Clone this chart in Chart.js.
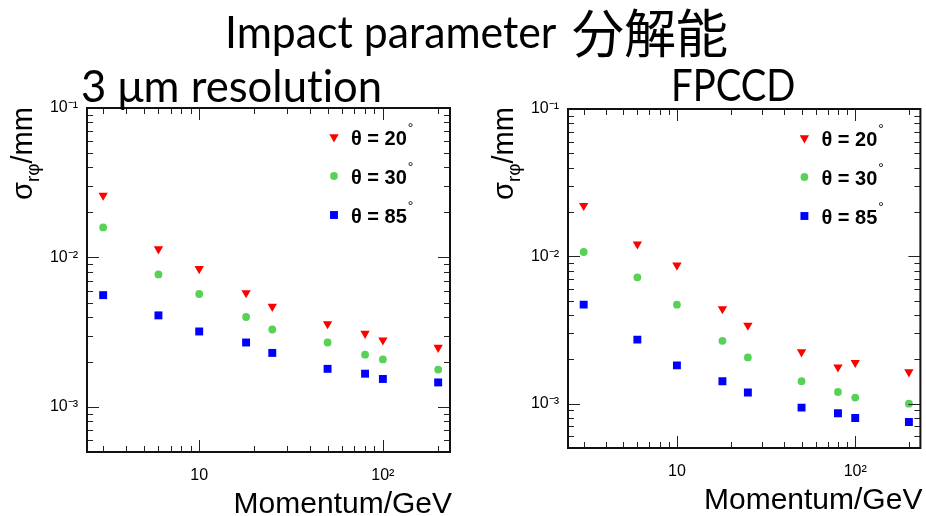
<!DOCTYPE html>
<html>
<head>
<meta charset="utf-8">
<script src="https://cdn.jsdelivr.net/npm/chart.js@4.4.1/dist/chart.umd.min.js"></script>
<style>
  body { margin: 0; width: 926px; height: 516px; background: #fff; overflow: hidden; position: relative; }
  canvas { position: absolute; top: 0; }
  .txt { position: absolute; white-space: nowrap; color: #000; line-height: 1; font-family: Lato, "Open Sans", sans-serif; font-variant-ligatures: none; transform-origin: 0 0; }
  .cjk { font-family: "Noto Sans CJK JP", sans-serif; }
</style>
</head>
<body>
<canvas id="chartLeft" width="460" height="516" style="left:0"></canvas>
<canvas id="chartRight" width="456" height="516" style="left:470px"></canvas>

<div class="txt" style="left:225px; top:9px; font-size:45px; transform: scaleX(0.95)">Impact parameter</div>
<div class="txt cjk" style="left:572px; top:5px; font-size:52px">分解能</div>
<div class="txt" style="left:81px; top:63px; font-size:45px; transform: scaleX(0.97)">3 μm resolution</div>
<div class="txt" style="left:671px; top:62px; font-size:44px; transform: scaleX(0.87)">FPCCD</div>

<script>
// momentum points (GeV)
var momentum = [3, 6, 10, 18, 25, 50, 80, 100, 200];

// sigma_rphi in mm, 3 um resolution
var res3um_th20 = [0.026, 0.0114, 0.0084, 0.0058, 0.0047, 0.0036, 0.0031, 0.0028, 0.0025];
var res3um_th30 = [0.0159, 0.0077, 0.0057, 0.0040, 0.0033, 0.0027, 0.00224, 0.00208, 0.00178];
var res3um_th85 = [0.0056, 0.0041, 0.0032, 0.0027, 0.0023, 0.0018, 0.00167, 0.00154, 0.00146];

// sigma_rphi in mm, FPCCD
var fpccd_th20 = [0.0221, 0.0121, 0.0087, 0.0044, 0.0034, 0.00224, 0.00177, 0.0019, 0.00164];
var fpccd_th30 = [0.0107, 0.0072, 0.0047, 0.00267, 0.00206, 0.00142, 0.0012, 0.0011, 0.0010];
var fpccd_th85 = [0.0047, 0.00272, 0.00182, 0.00142, 0.00119, 0.00094, 0.00086, 0.0008, 0.00075];

var seriesLabels = ['θ = 20', 'θ = 30', 'θ = 85'];
var xTicks = [10, 100];
var yTicks = [0.001, 0.01, 0.1];

var seriesStyle = [
    { color: '#ff0000', pointStyle: 'triangle', radius: 5.4, rotation: 180 },
    { color: '#57d257', pointStyle: 'circle', radius: 3.9, rotation: 0 },
    { color: '#0000ff', pointStyle: 'rect', radius: 5.6, rotation: 0 }
];

var supDigits = { '-': '⁻', '0': '⁰', '1': '¹', '2': '²', '3': '³', '4': '⁴' };
function powerLabel(v) {
    var e = Math.round(Math.log10(v));
    if (e === 1) return '10';
    return '10' + String(e).split('').map(function(c) { return supDigits[c]; }).join('');
}

function makeDatasets(lists) {
    return lists.map(function(vals, i) {
        var s = seriesStyle[i];
        return {
            label: seriesLabels[i],
            data: momentum.map(function(p, j) { return { x: p, y: vals[j] }; }),
            showLine: false,
            pointStyle: s.pointStyle,
            pointRadius: s.radius,
            pointRotation: s.rotation,
            pointBackgroundColor: s.color,
            pointBorderWidth: 0,
            backgroundColor: s.color
        };
    });
}

// ROOT-like frame: inside ticks on all four sides, axis titles and legend
var rootFrame = {
    id: 'rootFrame',
    afterDatasetsDraw: function(chart) {
        var ctx = chart.ctx, a = chart.chartArea;
        var xs = chart.scales.x, ys = chart.scales.y;
        ctx.save();

        ctx.strokeStyle = '#222';
        ctx.lineWidth = 1;
        ctx.beginPath();
        for (var n = -4; n <= -1; n++) {
            for (var k = 1; k <= 9; k++) {
                var v = k * Math.pow(10, n);
                if (v < ys.min * 0.999 || v > ys.max * 1.001) continue;
                var py = Math.round(ys.getPixelForValue(v)) + 0.5;
                var len = k === 1 ? 12 : 6;
                ctx.moveTo(a.left, py); ctx.lineTo(a.left + len, py);
                ctx.moveTo(a.right, py); ctx.lineTo(a.right - len, py);
            }
        }
        for (var m = 0; m <= 2; m++) {
            for (var k2 = 1; k2 <= 9; k2++) {
                var xv = k2 * Math.pow(10, m);
                if (xv < xs.min || xv > xs.max) continue;
                var px = Math.round(xs.getPixelForValue(xv)) + 0.5;
                var xl = k2 === 1 ? 12 : 6;
                ctx.moveTo(px, a.bottom); ctx.lineTo(px, a.bottom - xl);
                ctx.moveTo(px, a.top); ctx.lineTo(px, a.top + xl);
            }
        }
        ctx.stroke();

        ctx.strokeStyle = '#111';
        ctx.lineWidth = 2;
        ctx.strokeRect(a.left, a.top, a.right - a.left, a.bottom - a.top);

        // y axis title: sigma_{r phi}/mm, rotated
        ctx.fillStyle = '#000';
        ctx.translate(a.left - 55, 200);
        ctx.rotate(-Math.PI / 2);
        ctx.textBaseline = 'alphabetic';
        ctx.textAlign = 'left';
        ctx.font = '29px "Liberation Sans", Arial, sans-serif';
        ctx.fillText('σ', 0, 0);
        var w = ctx.measureText('σ').width;
        ctx.font = '19px "Liberation Sans", Arial, sans-serif';
        ctx.fillText('rφ', w, 7);
        w += ctx.measureText('rφ').width;
        ctx.font = '29px "Liberation Sans", Arial, sans-serif';
        ctx.fillText('/mm', w, 0);
        ctx.setTransform(1, 0, 0, 1, 0, 0);

        // x axis title
        ctx.font = '30px "Liberation Sans", Arial, sans-serif';
        ctx.textAlign = 'right';
        ctx.fillText('Momentum/GeV', a.right + 2, a.bottom + 61);

        // legend
        chart.data.datasets.forEach(function(ds, i) {
            var s = seriesStyle[i];
            var mx = a.right - 116, my = a.top + 29 + i * 39;
            ctx.fillStyle = s.color;
            Chart.helpers.drawPoint(ctx, {
                pointStyle: s.pointStyle, radius: s.radius, rotation: s.rotation, borderWidth: 0
            }, mx, my);
            ctx.fillStyle = '#000';
            ctx.textAlign = 'left';
            ctx.font = 'bold 20px "Liberation Sans", Arial, sans-serif';
            ctx.fillText(ds.label, mx + 17, my + 8);
            var tw = ctx.measureText(ds.label).width;
            ctx.font = '14px "Liberation Sans", Arial, sans-serif';
            ctx.fillText('°', mx + 17 + tw + 1, my - 4);
        });
        ctx.restore();
    }
};

function makeChart(id, lists, box) {
    var ctx = document.getElementById(id).getContext('2d');
    return new Chart(ctx, {
        type: 'scatter',
        data: { datasets: makeDatasets(lists) },
        options: {
            responsive: false,
            animation: false,
            events: [],
            layout: { padding: { left: 0, right: box.right, top: box.top, bottom: 0 } },
            plugins: { legend: { display: false }, tooltip: { enabled: false } },
            scales: {
                x: {
                    type: 'logarithmic',
                    min: 2.45,
                    max: 232,
                    grid: { display: false, drawTicks: false },
                    border: { display: false },
                    afterFit: function(s) { s.height = box.bottom; },
                    afterBuildTicks: function(s) { s.ticks = xTicks.map(function(v) { return { value: v }; }); },
                    ticks: {
                        padding: 14,
                        color: '#000',
                        font: { family: '"Liberation Sans", Arial, sans-serif', size: 16 },
                        callback: function(v) { return powerLabel(v); }
                    }
                },
                y: {
                    type: 'logarithmic',
                    min: 0.0005,
                    max: 0.1,
                    grid: { display: false, drawTicks: false },
                    border: { display: false },
                    afterFit: function(s) { s.width = box.left; },
                    afterBuildTicks: function(s) { s.ticks = yTicks.map(function(v) { return { value: v }; }); },
                    ticks: {
                        padding: 9,
                        color: '#000',
                        font: { family: '"Liberation Sans", Arial, sans-serif', size: 16 },
                        callback: function(v) { return powerLabel(v); }
                    }
                }
            }
        },
        plugins: [rootFrame]
    });
}

makeChart('chartLeft', [res3um_th20, res3um_th30, res3um_th85], { left: 87, right: 10, top: 108, bottom: 64 });
makeChart('chartRight', [fpccd_th20, fpccd_th30, fpccd_th85], { left: 98, right: 1, top: 109, bottom: 68 });
</script>
</body>
</html>
